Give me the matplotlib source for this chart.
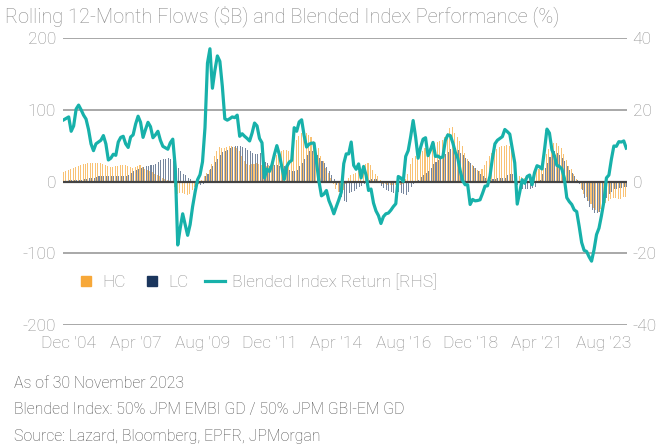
import numpy as np
from matplotlib import pyplot as plt
from matplotlib.lines import Line2D

plt.rcParams['font.family'] = ['Roboto', 'DejaVu Sans']
plt.rcParams['font.weight'] = 'light'
plt.rcParams['axes.unicode_minus'] = False

# rolling 12-month flows ($B), monthly Dec '04 .. Nov '23
hc = [12.6, 14, 15.5, 17, 18.6, 20, 21.5, 23, 24.7, 25, 25.3, 25.5, 25.6, 26, 26.2, 26.4, 25, 22.5, 21, 20.5,
      20, 21, 22, 23.3, 23.2, 23, 21.5, 20, 18.6, 20, 21.5, 23, 20.5, 17.5, 15.5, 14, 12.6, 10.5, 8.5, 7,
      5, 3, 1.5, 0.8, 0, -8, -17, -16.5, -16, -17.5, -18.6, -17, -12, -7, -4, -3, 2, 8, 12, 16,
      25, 35, 42, 48, 47, 46.5, 48, 49, 50, 48.5, 47, 42, 35, 28, 24, 23.5, 24.5, 25, 25.6, 24.5,
      23, 22, 21, 23, 27, 32, 37, 42, 43, 44, 44, 43, 47, 51, 58, 64, 68, 71, 68, 65,
      62.5, 57, 51, 46, 36, 29, 19, 12, 5, -4, -10, -15, -18, -12, -3, 5, 8.5, 10, 11.6, 14,
      17, 20, 24, 25.6, 23.5, 16, 11, 8, 2.5, -3, -4, -4.7, -5, -4.7, -4.5, -4, -4.5, -3, 3, 11,
      24, 33, 36, 38, 40, 43, 47, 51, 47, 50, 53, 55, 56.5, 57.5, 62, 68, 75, 76, 68, 62,
      56, 50, 40, 32, 27, 23, 19, 16, 14, 18, 23, 28, 35, 40, 42, 45, 48, 49, 49.5, 51,
      49, 42, 30, 10, 7, 6, 5, 4, 3, 5, 10, 14, 18, 23, 28, 38, 45, 51, 53, 53.5,
      50, 47, 38, 30, 21, 17, 10, 4, -2, -10, -17, -21, -27, -32, -37, -40, -42, -38, -32, -30,
      -27, -25, -23.5, -23, -25, -24, -22, -21]
lc = [1, 1.2, 1.4, 1.5, 1.6, 1.8, 2, 2.5, 3.5, 4, 4.5, 4.6, 5, 6, 7, 8, 8, 8, 8, 7.5,
      7, 7, 7, 7, 7, 7.5, 9.5, 11.6, 14, 16, 17.5, 19, 20, 21, 22, 22.5, 23, 24.5, 27, 30,
      31.6, 32, 32.6, 31, 29, 26, 19, 15, 11, 9, 5, 3, 1, -1.4, -3.5, -4.5, -3, 8, 11, 18,
      22, 27, 32, 37, 41, 43, 44.5, 46, 48, 49, 50, 49, 48, 46.5, 44, 42, 40, 38.6, 39, 39.5,
      32, 27, 25.6, 22, 21.5, 23, 22.5, 22, 21.5, 21, 18, 16.3, 14.5, 14.5, 16.3, 21, 26, 32, 37, 43,
      43, 41, 37, 33, 29, 26, 20, 15, 9.3, 3, -5, -14, -22, -27, -28, -16, -14, -13, -11, -8,
      -6, -4, 0, 2, 3, 3, 3, 1, -6, -9, -11.6, -13, -15, -16, -17, -15, -16, -18, -19, -14,
      -8, -3, 0, 2.3, 6, 9, 12, 14, 19, 24, 27, 30, 32.6, 35, 38, 40.5, 45, 48, 47, 44,
      40, 37, 33, 29, 26, 22, 18.6, 14, 11, 7, 5, 3, 2.3, 3, 4, 4.7, 4.7, 4.7, 5, 9,
      10.7, 10, 5, -5, -10, -11, -10, -10, -10, -9, -7, -2, 2.3, 10, 18.6, 26, 34, 40, 42, 39.5,
      37, 33, 28, 22, 16.3, 12, 7, 2, -3, -12, -23, -27, -35, -40, -44, -43.5, -42, -38, -29, -23,
      -17, -14, -11, -10.5, -9.5, -9, -8, -7]
# blended index 12-month return (%), right axis
ret = [17.2, 17.6, 18, 14, 15.5, 20.2, 21.3, 20, 18.5, 17.4, 14.5, 10.5, 8.6, 10.5, 11, 11.5, 12.8, 10.5, 6, 6.5,
       7.6, 7.3, 11, 12.3, 12.6, 10.5, 9.5, 12.4, 13, 16, 18.2, 16.5, 12.3, 14.5, 16.5, 15.3, 12.2, 13, 14, 11.5,
       9.8, 9.4, 9, 10.8, 11.8, 4, -17.7, -13, -9, -12, -15, -12, -7, -3, 0.5, 1.9, 5.5, 15, 33, 37,
       26, 31, 35, 33.5, 26.5, 17.5, 17.1, 17.5, 18, 17.8, 18.5, 12.6, 13.3, 12.6, 12, 11.3, 13.5, 16.3, 15.5, 12,
       10.8, 1, 3.5, 2.8, 4.6, 7.5, 10, 7.5, 4, 0.6, 4.2, 5.4, 5.9, 15, 14, 16.6, 17.2, 12.8, 9.6, 10.4,
       10.7, 10.7, 5.3, 0, -4, -3.5, -2.5, -5.3, -7, -9, -7, -5.1, -3, 5, 7.7, 7.7, 11, 4.5, 3.4, 4.9,
       1, 4.2, 1.8, -2.5, -2.1, -6, -8.2, -9.5, -11.7, -9.8, -9, -8.8, -8, -7, -6.2, 1.4, 1, 0, 7, 8.6,
       12.5, 17, 12.4, 6.5, 9.5, 11.8, 12.2, 7.2, 8.8, 10.9, 7, 7.1, 6.6, 6.9, 11.5, 13, 12.8, 10.8, 8.2, 6.5,
       3, 0.2, -0.9, -0.9, -6.4, -5, -5.4, -5.3, -5.1, -3.3, -1.3, -1.2, 1.5, 6.5, 10.5, 11.5, 12, 12.5, 14.5, 13.9,
       13.2, 9.2, 5.2, -6.3, -3, 0.5, -0.5, 1.4, 1.8, -0.9, 2.5, 4.4, 4.1, 3.5, 8.8, 14.6, 13.5, 8.8, 7.2, 4.5,
       4.2, 3.5, 1, -4.5, -5.6, -6.4, -7.9, -8.4, -12.5, -17, -19.2, -19.5, -21, -22.2, -19, -14.8, -13, -9.5, -5.5, 1,
       1.8, 6.2, 9.9, 9.8, 11.1, 11, 11.3, 9.3]

date_labels = ["Dec '04", "Apr '07", "Aug '09", "Dec '11", "Apr '14", "Aug '16", "Dec '18", "Apr '21", "Aug '23"]

grey = '#8c8c8c'
orange = '#F7A839'
navy = '#1B365D'
teal = '#17B1AA'

x = np.arange(len(ret))

fig = plt.figure(figsize=(6.72, 4.47), dpi=100)
ax = fig.add_axes([63/672, 1 - 325/447, 564/672, 287/447])
ax2 = ax.twinx()

ax.bar(x - 0.22, hc, width=0.42, color=orange, alpha=0.7, linewidth=0, zorder=2)
ax.bar(x + 0.22, lc, width=0.42, color=navy, alpha=0.6, linewidth=0, zorder=2)
ax.axhline(0, color='#444444', lw=1.6, zorder=3)
for yv in [200, 100, -100, -200]:
    ax.axhline(yv, color='#9a9a9a', lw=1.2, zorder=1)

ax2.plot(x, ret, color=teal, lw=2.3, solid_joinstyle='round')

ax.set_xlim(-0.3, len(ret) - 0.7)
ax.set_ylim(-200, 200)
ax2.set_ylim(-40, 40)
ax.set_yticks([-200, -100, 0, 100, 200])
ax2.set_yticks([-40, -20, 0, 20, 40])
ax.set_xticks([2 + 27 * k for k in range(len(date_labels))])
ax.set_xticklabels(date_labels)

for a in (ax, ax2):
    for s in a.spines.values():
        s.set_visible(False)
    a.tick_params(length=0, labelsize=12.5, labelcolor=grey)
ax.tick_params(axis='y', pad=5)
ax2.tick_params(axis='y', pad=4)
ax.tick_params(axis='x', pad=8)

handles = [Line2D([], [], marker='s', ls='none', color=orange, markersize=7),
           Line2D([], [], marker='s', ls='none', color=navy, markersize=7),
           Line2D([], [], color=teal, lw=2.3)]
leg = ax.legend(handles, ['HC', 'LC', 'Blended Index Return [RHS]'], ncol=3, frameon=False,
                loc='center left', bbox_to_anchor=(-0.005, 0.15), fontsize=12.5,
                handlelength=1.2, handletextpad=0.35, columnspacing=0.9)
for t in leg.get_texts():
    t.set_color(grey)

fig.text(5/672, 1 - 16/447, 'Rolling 12-Month Flows ($B) and Blended Index Performance (%)',
         fontsize=14.4, color=grey, va='center')
notes = ['As of 30 November 2023',
         'Blended Index: 50% JPM EMBI GD / 50% JPM GBI-EM GD',
         'Source: Lazard, Bloomberg, EPFR, JPMorgan']
for k, n in enumerate(notes):
    fig.text(14/672, 1 - (383 + 26.5 * k)/447, n, fontsize=11.4, color='#505050', va='center')

fig.savefig('out.png', dpi=100)
